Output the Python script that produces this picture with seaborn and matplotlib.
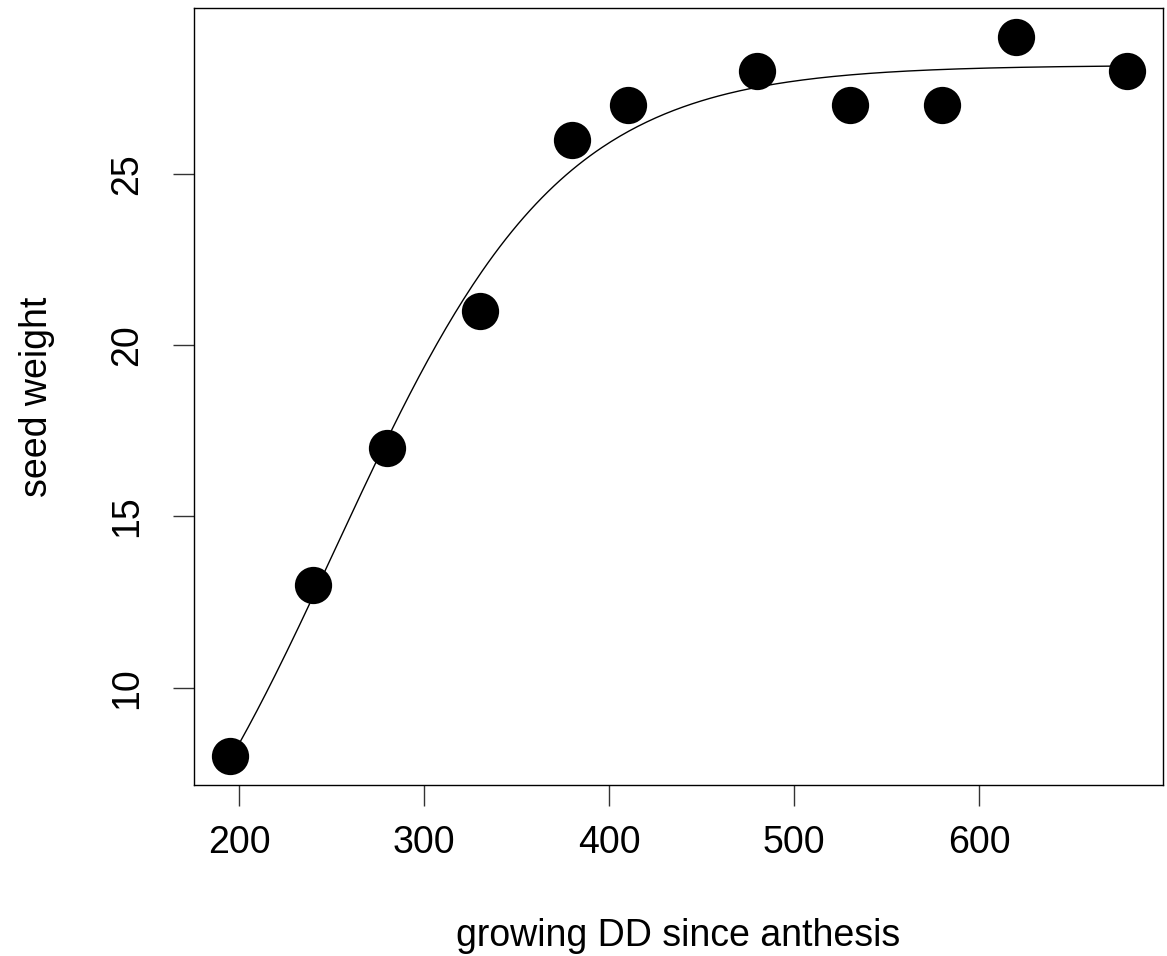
import numpy as np
import pandas as pd
import matplotlib
matplotlib.use("Agg")
import matplotlib.pyplot as plt
import seaborn as sns

# data
dd = [195, 240, 280, 330, 380, 410, 480, 530, 580, 620, 680]
seed_weight = [8, 13, 17, 21, 26, 27, 28, 27, 27, 29, 28]
x_ticks = [200, 300, 400, 500, 600]
y_ticks = [10, 15, 20, 25]

df = pd.DataFrame({"dd": dd, "w": seed_weight})

# fit 3-parameter logistic y = a / (1 + exp(-(x - m)/s)) by Gauss-Newton
x = np.asarray(dd, float)
y = np.asarray(seed_weight, float)
p = np.array([28.0, 250.0, 55.0])
for _ in range(200):
    a, m, s = p
    e = np.exp(-(x - m) / s)
    f = a / (1 + e)
    da = 1 / (1 + e)
    dm = -a * e / (1 + e) ** 2 / s
    ds = -a * e / (1 + e) ** 2 * (x - m) / s ** 2
    J = np.column_stack([da, dm, ds])
    step, *_ = np.linalg.lstsq(J, y - f, rcond=None)
    p = p + step
    if np.max(np.abs(step)) < 1e-9:
        break
a, m, s = p
xs = np.linspace(min(dd), max(dd), 300)
curve = pd.DataFrame({"dd": xs, "w": a / (1 + np.exp(-(xs - m) / s))})

sns.set_style("ticks")
plt.rcParams["font.family"] = ["Liberation Sans", "DejaVu Sans"]

W, H = 1167, 956
fig = plt.figure(figsize=(W / 100, H / 100), dpi=100)
ax = fig.add_axes([194 / W, (H - 785) / H, (1163 - 194) / W, (785 - 8) / H])

sns.lineplot(data=curve, x="dd", y="w", ax=ax, color="black", lw=1.0)
sns.scatterplot(data=df, x="dd", y="w", ax=ax, color="black", s=720,
                edgecolor="black", linewidth=0, zorder=3)

rng_x = max(dd) - min(dd)
rng_y = max(seed_weight) - min(seed_weight)
ax.set_xlim(min(dd) - 0.04 * rng_x, max(dd) + 0.04 * rng_x)
ax.set_ylim(min(seed_weight) - 0.04 * rng_y, max(seed_weight) + 0.04 * rng_y)
ax.set_xticks(x_ticks)
ax.set_yticks(y_ticks)
ax.set_yticklabels([str(v) for v in y_ticks], rotation=90, va="center")

for sp in ax.spines.values():
    sp.set_visible(True)
    sp.set_color("black")
    sp.set_linewidth(1.0)
ax.tick_params(axis="both", direction="out", length=15, width=1.0,
               color="#333333", labelsize=27, labelcolor="black", pad=14)
ax.tick_params(axis="y", pad=20)

ax.set_xlabel("growing DD since anthesis", fontsize=27, color="black", labelpad=41)
ax.set_ylabel("seed weight", fontsize=27, color="black", labelpad=39)

fig.savefig("out.png", dpi=100)
